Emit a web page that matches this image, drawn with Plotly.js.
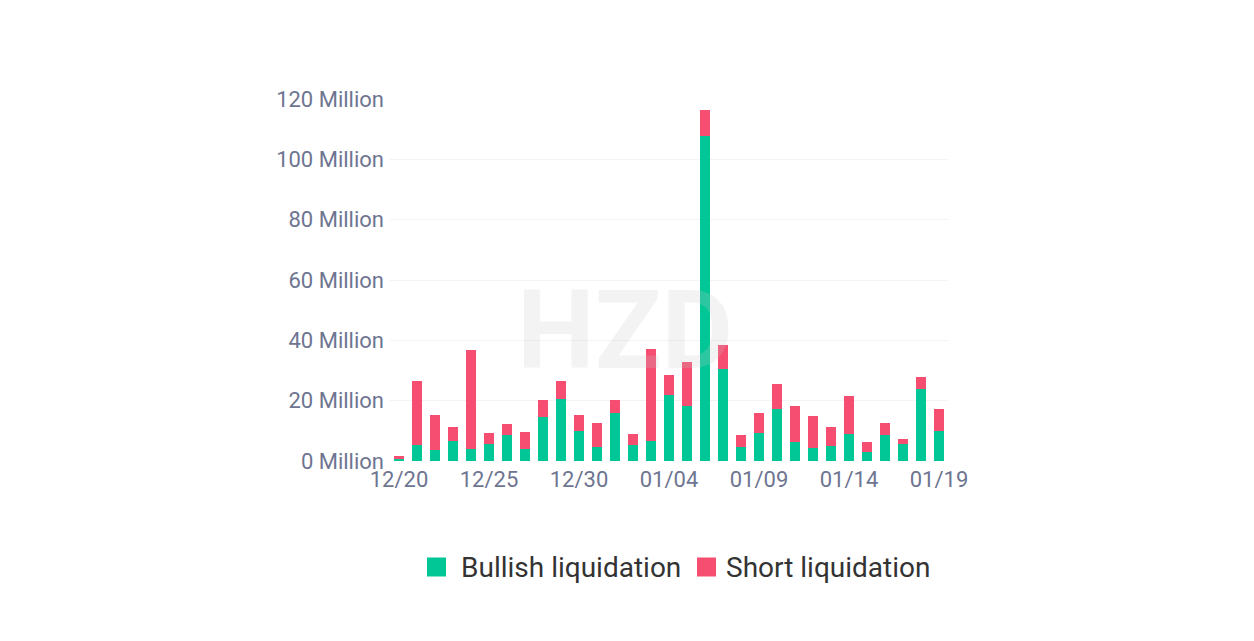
<!DOCTYPE html>
<html>
<head>
<meta charset="utf-8">
<script src="https://cdn.plot.ly/plotly-3.0.1.min.js"></script>
<style>html,body{margin:0;padding:0;background:#fff;}#chart{width:1254px;height:641px;}</style>
</head>
<body>
<div id="chart"></div>
<script>
const dates = ["12/20","12/21","12/22","12/23","12/24","12/25","12/26","12/27","12/28","12/29","12/30","12/31",
  "01/01","01/02","01/03","01/04","01/05","01/06","01/07","01/08","01/09","01/10","01/11","01/12","01/13","01/14",
  "01/15","01/16","01/17","01/18","01/19"];
// Values in millions
const bullish = [0.8,5.3,3.6,6.6,4.1,5.8,8.7,4.1,14.7,20.7,10.1,4.7,15.8,5.2,6.7,21.9,18.3,107.7,30.4,4.7,9.3,17.2,6.4,4.2,4.9,8.8,3.1,8.7,5.8,23.8,10.1];
const shortLiq = [1.0,21.1,11.6,4.8,32.8,3.4,3.6,5.5,5.6,5.8,5.1,7.8,4.5,3.9,30.4,6.7,14.4,8.7,8.2,3.8,6.5,8.3,11.8,10.7,6.4,12.9,3.2,3.8,1.6,4.1,7.1];
const seriesNames = ["Bullish liquidation", "Short liquidation"];
const xTicks = ["12/20","12/25","12/30","01/04","01/09","01/14","01/19"];
const yTicks = [0,20,40,60,80,100,120];
const yTickText = yTicks.map(v => v + " Million");

const green = "#00C795";
const red = "#F54E70";
const W = 1254, H = 641;
const M = {l: 390, r: 306, t: 99, b: 180};
const PW = W - M.l - M.r, PH = H - M.t - M.b;
const px = x => (x - M.l) / PW;   // pixel -> paper x
const py = y => (H - M.b - y) / PH; // pixel -> paper y

const axisFont = {family: "Roboto, 'Noto Sans', sans-serif", size: 22, color: "#6E7591"};

const traces = [
  {type: "bar", name: seriesNames[0], x: dates, y: bullish, marker: {color: green}, hoverinfo: "x+y"},
  {type: "bar", name: seriesNames[1], x: dates, y: shortLiq, marker: {color: red}, hoverinfo: "x+y"}
];

// custom legend (larger swatches like the reference)
const legendItems = [
  {color: green, text: seriesNames[0], sq: 427, tx: 459},
  {color: red, text: seriesNames[1], sq: 697, tx: 724}
];
const legendY = 567, sqSize = 19;
const shapes = legendItems.map(it => ({
  type: "rect", xref: "paper", yref: "paper",
  x0: px(it.sq), x1: px(it.sq + sqSize), y0: py(legendY + sqSize / 2), y1: py(legendY - sqSize / 2),
  fillcolor: it.color, line: {width: 0}
}));
const annotations = legendItems.map(it => ({
  text: it.text, xref: "paper", yref: "paper", x: px(it.tx), y: py(legendY),
  xanchor: "left", yanchor: "middle", showarrow: false,
  font: {family: "Roboto, 'Noto Sans', sans-serif", size: 28, color: "#333333"}
}));
annotations.push({
  text: "<b>HZD</b>", xref: "paper", yref: "paper", x: px(625), y: py(330),
  xanchor: "center", yanchor: "middle",
  showarrow: false, font: {family: "Roboto, sans-serif", size: 110, color: "rgba(200,200,205,0.22)"}
});

const layout = {
  width: W, height: H,
  paper_bgcolor: "#ffffff", plot_bgcolor: "#ffffff",
  margin: {l: M.l, r: M.r, t: M.t, b: M.b, pad: 0},
  barmode: "stack",
  bargap: 0.44,
  showlegend: false,
  xaxis: {
    type: "category",
    range: [-0.5, 30.5],
    tickmode: "array", tickvals: xTicks, ticktext: xTicks,
    tickfont: axisFont,
    showgrid: false, showline: false, zeroline: false, ticks: "",
    ticklabelstandoff: 3
  },
  yaxis: {
    range: [0, 120],
    tickmode: "array", tickvals: yTicks, ticktext: yTickText,
    tickfont: axisFont,
    showgrid: true, gridcolor: "#F3F3F5", gridwidth: 1,
    zeroline: false, showline: false, ticks: "",
    ticklabelstandoff: 5
  },
  shapes: shapes,
  annotations: annotations
};

Plotly.newPlot("chart", traces, layout, {displayModeBar: false, staticPlot: true});
</script>
</body>
</html>
